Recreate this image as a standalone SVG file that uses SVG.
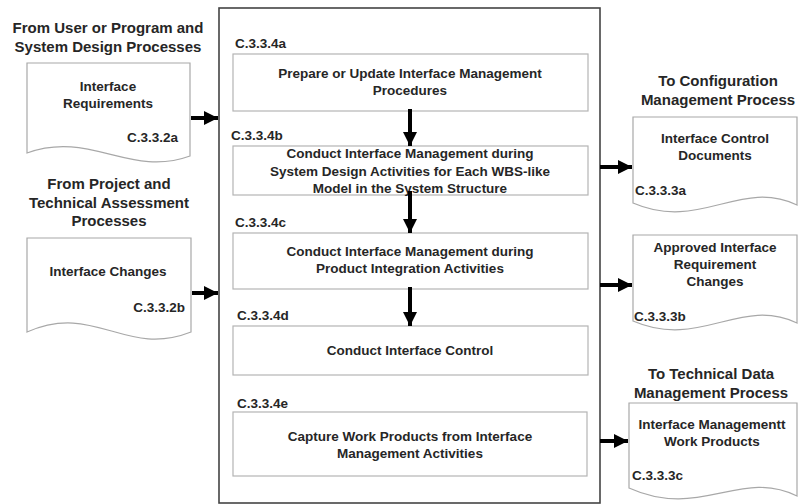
<svg xmlns="http://www.w3.org/2000/svg" width="799" height="504" viewBox="0 0 799 504">
<style>
text{font-family:"Liberation Sans",Arial,sans-serif;font-weight:bold;fill:#262626}
.t{font-size:15px;text-anchor:middle}
.b{font-size:13.5px;text-anchor:middle}
.id{font-size:13.5px}
.box{fill:#fff;stroke:#b4b4b4;stroke-width:1.2}
.doc{fill:#fff;stroke:#a8a8a8;stroke-width:1.2}
.main{fill:#fff;stroke:#444;stroke-width:1.6}
.c{stroke:#000;stroke-width:4;fill:none}
</style>
<defs>
<marker id="ah" viewBox="0 0 10 10" refX="10" refY="5" markerWidth="3.5" markerHeight="4" orient="auto" markerUnits="strokeWidth">
<path d="M0,0 L10,5 L0,10 Z" fill="#000"/>
</marker>
</defs>
<rect width="799" height="504" fill="#fff"/>

<g id="main-process">
<rect class="main" x="219" y="8" width="381" height="495"/>
</g>

<g id="title-in1">
<text class="t" x="108" y="33">From User or Program and</text>
<text class="t" x="108" y="52">System Design Processes</text>
</g>
<g id="title-in2">
<text class="t" x="109" y="189">From Project and</text>
<text class="t" x="109" y="208">Technical Assessment</text>
<text class="t" x="109" y="226">Processes</text>
</g>
<g id="title-out1">
<text class="t" x="718" y="86">To Configuration</text>
<text class="t" x="718" y="105">Management Process</text>
</g>
<g id="title-out2">
<text class="t" x="711" y="379">To Technical Data</text>
<text class="t" x="711" y="398">Management Process</text>
</g>

<g id="doc-c332a">
<path class="doc" d="M27,63 H190 V156 C130,178 90,130 27,153 Z"/>
<text class="b" x="108" y="91">Interface</text>
<text class="b" x="108" y="108">Requirements</text>
<text class="id" x="178" y="142" text-anchor="end">C.3.3.2a</text>
</g>
<g id="doc-c332b">
<path class="doc" d="M27,238 H191 V332 C125,358 95,302 27,332 Z"/>
<text class="b" x="108" y="276">Interface Changes</text>
<text class="id" x="185" y="312" text-anchor="end">C.3.3.2b</text>
</g>

<g id="step-a">
<text class="id" x="235" y="48">C.3.3.4a</text>
<rect class="box" x="233" y="54" width="355" height="57"/>
<text class="b" x="410" y="78">Prepare or Update Interface Management</text>
<text class="b" x="410" y="95">Procedures</text>
</g>
<g id="step-b">
<text class="id" x="231" y="140">C.3.3.4b</text>
<rect class="box" x="233" y="146" width="355" height="49"/>
<text class="b" x="410" y="158">Conduct Interface Management during</text>
<text class="b" x="410" y="176">System Design Activities for Each WBS-like</text>
<text class="b" x="410" y="193">Model in the System Structure</text>
</g>
<g id="step-c">
<text class="id" x="235" y="227">C.3.3.4c</text>
<rect class="box" x="233" y="233" width="355" height="56"/>
<text class="b" x="410" y="256">Conduct Interface Management during</text>
<text class="b" x="410" y="273">Product Integration Activities</text>
</g>
<g id="step-d">
<text class="id" x="237" y="320">C.3.3.4d</text>
<rect class="box" x="233" y="326" width="355" height="49"/>
<text class="b" x="410" y="355">Conduct Interface Control</text>
</g>
<g id="step-e">
<text class="id" x="237" y="408">C.3.3.4e</text>
<rect class="box" x="233" y="412" width="354" height="64"/>
<text class="b" x="410" y="441">Capture Work Products from Interface</text>
<text class="b" x="410" y="458">Management Activities</text>
</g>

<g id="doc-c333a">
<path class="doc" d="M633,117 H797 V205 C740,178 700,232 633,203 Z"/>
<text class="b" x="715" y="143">Interface Control</text>
<text class="b" x="715" y="160">Documents</text>
<text class="id" x="635" y="195">C.3.3.3a</text>
</g>
<g id="doc-c333b">
<path class="doc" d="M633,235 H797 V323 C740,296 700,350 633,321 Z"/>
<text class="b" x="715" y="252">Approved Interface</text>
<text class="b" x="715" y="269">Requirement</text>
<text class="b" x="715" y="286">Changes</text>
<text class="id" x="634" y="321">C.3.3.3b</text>
</g>
<g id="doc-c333c">
<path class="doc" d="M629,403 H797 V496 C740,468 700,520 629,488 Z"/>
<text class="b" x="712" y="429">Interface Managementt</text>
<text class="b" x="712" y="446">Work Products</text>
<text class="id" x="632" y="480">C.3.3.3c</text>
</g>

<g id="connectors">
<line class="c" x1="191" y1="118" x2="218" y2="118" marker-end="url(#ah)"/>
<line class="c" x1="192" y1="293" x2="218" y2="293" marker-end="url(#ah)"/>
<line class="c" x1="410" y1="109" x2="410" y2="146" marker-end="url(#ah)"/>
<line class="c" x1="410" y1="191" x2="410" y2="233" marker-end="url(#ah)"/>
<line class="c" x1="410" y1="287" x2="410" y2="326" marker-end="url(#ah)"/>
<line class="c" x1="600" y1="167" x2="632" y2="167" marker-end="url(#ah)"/>
<line class="c" x1="600" y1="285" x2="632" y2="285" marker-end="url(#ah)"/>
<line class="c" x1="600" y1="441" x2="628" y2="441" marker-end="url(#ah)"/>
</g>
</svg>
